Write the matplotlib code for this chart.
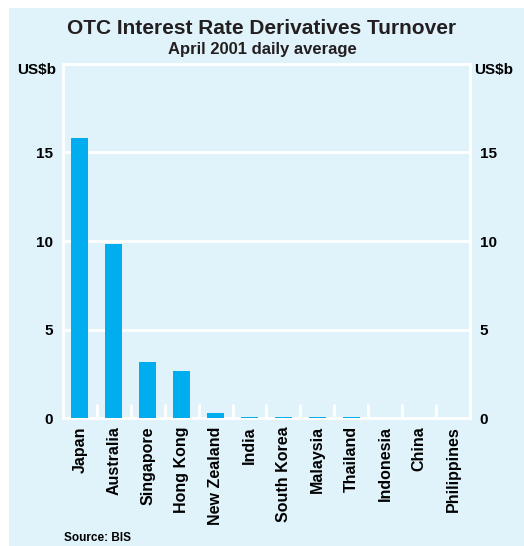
import matplotlib
matplotlib.use("Agg")
import matplotlib.pyplot as plt
import numpy as np
from matplotlib.patches import Rectangle

# OTC interest rate derivatives turnover, April 2001 daily average (US$b)
countries = ["Japan", "Australia", "Singapore", "Hong Kong", "New Zealand", "India",
             "South Korea", "Malaysia", "Thailand", "Indonesia", "China", "Philippines"]
turnover = [15.8, 9.85, 3.15, 2.65, 0.3, 0.08, 0.08, 0.03, 0.03, 0.01, 0.0, 0.0]
yticks = [0, 5, 10, 15]

plt.rcParams['font.family'] = ['Liberation Sans', 'DejaVu Sans']
plt.rcParams['font.weight'] = 'bold'

bg = "#e0f2fa"
bar_col = "#00aeef"

fig = plt.figure(figsize=(5.24, 5.46), dpi=100, facecolor="white")
fig.patches.append(Rectangle((9/524, 0), 1, 1 - 8/546, transform=fig.transFigure,
                             facecolor=bg, edgecolor="none", zorder=-10))

ax = fig.add_axes([0.120, 0.2344, 0.777, 0.6484])
ax.set_facecolor(bg)

x = np.arange(len(countries))
ax.bar(x, turnover, width=0.5, color=bar_col, edgecolor="none", linewidth=0, zorder=3)

ax.set_xlim(-0.5, len(countries) - 0.5)
ax.set_ylim(0, 20)
ax.set_yticks(yticks)
ax.yaxis.grid(True, color="white", linewidth=2, zorder=1)
ax.set_axisbelow(True)

for s in ax.spines.values():
    s.set_color("white")
    s.set_linewidth(2)

ax.set_xticks(x)
ax.set_xticklabels(countries, rotation=90, fontsize=11.5, fontweight="bold")
ax.tick_params(axis="x", which="major", length=0, pad=6)
ax.set_xticks(np.arange(0.5, len(countries) - 1, 1), minor=True)
ax.tick_params(axis="x", which="minor", direction="in", length=10, width=2, color="white")

ax.tick_params(axis="y", length=0, labelsize=11, pad=7, labelright=True, right=False)
for lab in ax.get_yticklabels():
    lab.set_fontweight("bold")

fig.text(0.5, 0.947, "OTC Interest Rate Derivatives Turnover", ha="center", va="center",
         fontsize=15, fontweight="bold", color="#231f20")
fig.text(0.5, 0.910, "April 2001 daily average", ha="center", va="center",
         fontsize=12, fontweight="bold", color="#231f20")
fig.text(0.032, 0.872, "US$b", ha="left", va="center", fontsize=11, fontweight="bold")
fig.text(0.905, 0.872, "US$b", ha="left", va="center", fontsize=11, fontweight="bold")
fig.text(0.122, 0.004, "Source: BIS", ha="left", va="bottom", fontsize=8.5, fontweight="bold")

fig.savefig("out.png", dpi=100, facecolor="white")
